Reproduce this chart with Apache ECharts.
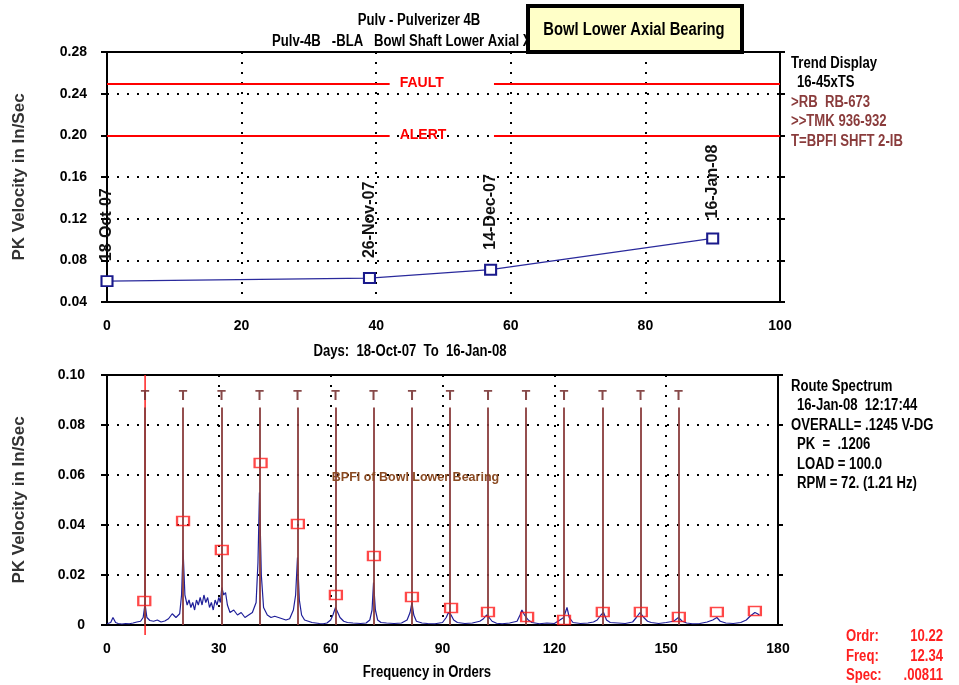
<!DOCTYPE html>
<html>
<head>
<meta charset="utf-8">
<title>Pulverizer 4B - Bowl Lower Axial Bearing</title>
<script src="https://cdn.jsdelivr.net/npm/echarts@6/dist/echarts.min.js"></script>
<style>
  html, body { margin: 0; padding: 0; background: #fff; }
  #chart { width: 959px; height: 685px; }
</style>
</head>
<body>
<div id="chart"></div>
<script>
// ---- Trend data (days since 18-Oct-07, PK velocity in/s) ----
const trendDays   = [0, 39, 57, 90];
const trendValues = [0.060, 0.063, 0.071, 0.101];
const trendDates  = ['18-Oct-07', '26-Nov-07', '14-Dec-07', '16-Jan-08'];
const faultLevel  = 0.25;
const alertLevel  = 0.20;

// ---- Route spectrum (orders, PK velocity in/s) ----
const specOrders = [
  0, 1, 1.6, 2.3, 3, 4, 5, 6, 7, 8, 9, 9.7, 10.2, 10.7, 11.5, 12.5, 13.5, 14.5, 15.5, 16.5,
  17.5, 18.5, 19.5, 20.0, 20.4, 20.9, 21.5, 22, 22.5, 23, 23.5, 24, 24.5, 25, 25.5, 26, 26.5, 27, 27.5, 28,
  28.5, 29, 29.5, 30, 30.4, 30.8, 31.3, 31.8, 32.3, 33, 34, 35, 36, 37, 38, 39, 40, 40.5, 40.9, 41.4,
  42, 43, 44, 45, 46, 47, 48, 49, 50, 50.6, 51.1, 51.6, 52.2, 53, 54, 55, 56, 57, 58, 59,
  60, 60.6, 61.3, 61.9, 62.5, 63.5, 64.5, 66, 68, 69.5, 70.5, 71.1, 71.5, 72, 72.6, 73.5, 75, 77, 79, 80.5,
  81.3, 81.8, 82.3, 83, 84.5, 86, 88, 90, 91, 91.6, 92.3, 93, 94, 96, 98, 100, 101, 101.8, 102.5, 103.3,
  104.5, 106, 108, 110, 110.8, 111.3, 112, 113, 114, 116, 118, 120, 121.5, 122.5, 123.4, 124, 125, 127, 129, 130.5,
  131.5, 132.5, 133.2, 134, 135, 137, 139, 141, 142, 143, 144, 145, 146, 148, 150, 152, 153.3, 154.3, 155.5, 157,
  159, 161, 162.5, 163.6, 164.5, 166, 168, 170, 171.5, 172.5, 173.8, 174.5, 175
];
const specValues = [
  0.0005, 0.001, 0.003, 0.001, 0.0006, 0.0004, 0.0006, 0.0005, 0.0008, 0.0012, 0.0015, 0.003, 0.0085, 0.003, 0.0018, 0.0015, 0.002, 0.0012, 0.0016, 0.0025,
  0.0045, 0.003, 0.0045, 0.012, 0.030, 0.012, 0.008, 0.010, 0.007, 0.009, 0.006, 0.010, 0.008, 0.011, 0.008, 0.012, 0.009, 0.011, 0.007, 0.009,
  0.006, 0.010, 0.008, 0.011, 0.009, 0.015, 0.012, 0.013, 0.008, 0.005, 0.006, 0.004, 0.005, 0.003, 0.004, 0.005, 0.009, 0.025, 0.053, 0.020,
  0.007, 0.004, 0.003, 0.0035, 0.003, 0.0025, 0.002, 0.0025, 0.006, 0.012, 0.027, 0.010, 0.004, 0.002, 0.0015, 0.001, 0.0008, 0.0006, 0.0005, 0.0008,
  0.002, 0.004, 0.007, 0.005, 0.003, 0.0015, 0.001, 0.0008, 0.0006, 0.0008, 0.002, 0.006, 0.017, 0.006, 0.002, 0.001, 0.0008, 0.0006, 0.0008, 0.002,
  0.005, 0.009, 0.004, 0.0015, 0.0008, 0.0006, 0.0005, 0.001, 0.003, 0.005, 0.004, 0.002, 0.001, 0.0006, 0.0008, 0.0015, 0.0025, 0.004, 0.003, 0.0015,
  0.0007, 0.0005, 0.0008, 0.0015, 0.004, 0.006, 0.004, 0.002, 0.001, 0.0005, 0.0008, 0.0006, 0.002, 0.003, 0.007, 0.003, 0.001, 0.0006, 0.0008, 0.0012,
  0.002, 0.004, 0.005, 0.002, 0.001, 0.0008, 0.0006, 0.0012, 0.003, 0.005, 0.003, 0.0015, 0.001, 0.0006, 0.001, 0.0015, 0.003, 0.0015, 0.0008, 0.0005,
  0.0006, 0.0012, 0.002, 0.003, 0.0015, 0.0008, 0.0006, 0.001, 0.002, 0.0035, 0.005, 0.0045, 0.004
];

// Peak markers (orders, amplitude)
const peakOrders = [10.0, 20.4, 30.8, 41.2, 51.2, 61.4, 71.6, 81.8, 92.3, 102.2, 112.7, 122.6, 133.0, 143.2, 153.4, 163.6, 173.8];
const peakValues = [0.0096, 0.0416, 0.030, 0.0648, 0.0404, 0.012, 0.0276, 0.0112, 0.0068, 0.0052, 0.0032, 0.002, 0.0052, 0.0052, 0.0032, 0.0052, 0.0056];

// BPFI harmonic cursor positions (orders)
const bpfiOrders = [10.2, 20.4, 30.7, 40.9, 51.1, 61.3, 71.5, 81.8, 92.0, 102.2, 112.4, 122.6, 132.9, 143.1, 153.3];
const bpfiTop = 0.087;
const cursorOrder = 10.22;

const FONT = "'Liberation Sans',Arial,sans-serif";
const BROWN = '#8a3c3c';

// Condensed text helper (horizontal squeeze around the anchor point)
function txt(text, x, y, opts) {
  opts = opts || {};
  return {
    type: 'text', x: x, y: y, z: opts.z || 10,
    scaleX: opts.sx || 0.82, scaleY: 1,
    style: {
      text: text,
      font: (opts.weight || 'bold') + ' ' + (opts.size || 16) + 'px ' + FONT,
      fill: opts.color || '#000',
      align: opts.align || 'left',
      verticalAlign: 'middle'
    }
  };
}

const dotted = { color: '#000', width: 2, type: [2, 8] };
const axisLabelStyle = { color: '#000', fontFamily: FONT, fontWeight: 'bold', fontSize: 14 };
const yNameStyle = { color: '#333', fontFamily: FONT, fontWeight: 'bold', fontSize: 17 };

const chart = echarts.init(document.getElementById('chart'), null, { renderer: 'canvas' });

const option = {
  animation: false,
  backgroundColor: '#fff',
  grid: [
    { left: 107, top: 52, width: 673, height: 250, show: true, borderColor: '#000', borderWidth: 2, backgroundColor: 'transparent' },
    { left: 107, top: 375, width: 671, height: 250, show: true, borderColor: '#000', borderWidth: 2, backgroundColor: 'transparent' }
  ],
  xAxis: [
    {
      gridIndex: 0, type: 'value', min: 0, max: 100, interval: 20,
      axisLine: { show: true, lineStyle: { color: '#000', width: 2 } },
      axisTick: { show: false },
      axisLabel: Object.assign({ margin: 17 }, axisLabelStyle),
      splitLine: { show: true, lineStyle: dotted }
    },
    {
      gridIndex: 1, type: 'value', min: 0, max: 180, interval: 30,
      axisLine: { show: true, lineStyle: { color: '#000', width: 2 } },
      axisTick: { show: false },
      axisLabel: Object.assign({ margin: 17 }, axisLabelStyle),
      splitLine: { show: true, lineStyle: dotted }
    }
  ],
  yAxis: [
    {
      gridIndex: 0, type: 'value', min: 0.04, max: 0.28, interval: 0.04,
      name: 'PK Velocity in In/Sec', nameLocation: 'middle', nameGap: 79,
      nameTextStyle: yNameStyle,
      axisLine: { show: true, lineStyle: { color: '#000', width: 2 } },
      axisTick: { show: true, length: 6, lineStyle: { color: '#000', width: 2 } },
      axisLabel: Object.assign({ margin: 20, formatter: v => v.toFixed(2) }, axisLabelStyle),
      splitLine: { show: true, lineStyle: dotted }
    },
    {
      gridIndex: 1, type: 'value', min: 0, max: 0.1, interval: 0.02,
      name: 'PK Velocity in In/Sec', nameLocation: 'middle', nameGap: 79,
      nameTextStyle: yNameStyle,
      axisLine: { show: true, lineStyle: { color: '#000', width: 2 } },
      axisTick: { show: true, length: 6, lineStyle: { color: '#000', width: 2 } },
      axisLabel: Object.assign({ margin: 22, formatter: v => (v === 0 ? '0' : v.toFixed(2)) }, axisLabelStyle),
      splitLine: { show: true, lineStyle: dotted }
    },
    {
      gridIndex: 0, type: 'value', min: 0.04, max: 0.28, interval: 0.04, position: 'right',
      axisLine: { show: true, lineStyle: { color: '#000', width: 2 } },
      axisTick: { show: true, length: 5, lineStyle: { color: '#000', width: 2 } },
      axisLabel: { show: false }, splitLine: { show: false }
    },
    {
      gridIndex: 1, type: 'value', min: 0, max: 0.1, interval: 0.02, position: 'right',
      axisLine: { show: true, lineStyle: { color: '#000', width: 2 } },
      axisTick: { show: true, length: 5, lineStyle: { color: '#000', width: 2 } },
      axisLabel: { show: false }, splitLine: { show: false }
    }
  ],
  series: [
    // Trend line with date tags
    {
      type: 'line', xAxisIndex: 0, yAxisIndex: 0, z: 5,
      data: trendDays.map((d, i) => [d, trendValues[i]]),
      symbol: 'rect', symbolSize: [11, 10], showAllSymbol: true,
      itemStyle: { color: '#fff', borderColor: '#1a1a8c', borderWidth: 2 },
      lineStyle: { color: '#2a2a9c', width: 1.2 },
      label: {
        show: true, position: 'top', distance: 14, rotate: 90,
        align: 'left', verticalAlign: 'middle',
        formatter: p => trendDates[p.dataIndex],
        color: '#111', fontFamily: FONT, fontWeight: 'bold', fontSize: 16
      },
      markLine: {
        silent: true, symbol: ['none', 'none'],
        lineStyle: { color: '#ff0000', width: 2, type: 'solid' },
        label: { show: false },
        data: [
          [{ coord: [0, faultLevel], label: { show: true, position: 'end', formatter: 'FAULT', distance: 10, color: '#ff0000', fontFamily: FONT, fontWeight: 'bold', fontSize: 14 } }, { coord: [42, faultLevel] }],
          [{ coord: [57.5, faultLevel] }, { coord: [100, faultLevel] }],
          [{ coord: [0, alertLevel], label: { show: true, position: 'end', formatter: 'ALERT', distance: 10, color: '#ff0000', fontFamily: FONT, fontWeight: 'bold', fontSize: 14 } }, { coord: [42, alertLevel] }],
          [{ coord: [57.5, alertLevel] }, { coord: [100, alertLevel] }]
        ]
      }
    },
    // Cursor at the fundamental BPFI order
    {
      type: 'line', xAxisIndex: 1, yAxisIndex: 1, clip: false, z: 2,
      data: [[cursorOrder, 0.1], [cursorOrder, -0.004]],
      symbol: 'none', lineStyle: { color: '#ff2020', width: 1.5 }
    },
    // Spectrum trace with BPFI harmonic markers
    {
      type: 'line', xAxisIndex: 1, yAxisIndex: 1, z: 4,
      data: specOrders.map((o, i) => [o, specValues[i]]),
      symbol: 'none', lineStyle: { color: '#1f1f99', width: 1.2 },
      markLine: {
        silent: true, symbol: ['none', 'none'],
        lineStyle: { color: BROWN, width: 2, type: 'solid', opacity: 0.9 },
        label: { show: true, position: 'end', formatter: 'T', distance: 4, color: '#7a3535', fontFamily: FONT, fontWeight: 'bold', fontSize: 14 },
        data: bpfiOrders.map(o => [{ coord: [o, 0] }, { coord: [o, bpfiTop] }])
      },
      markPoint: {
        silent: true, symbol: 'circle', symbolSize: 0,
        data: [{
          coord: [60.3, 0.0588],
          label: { show: true, position: 'right', distance: 0, formatter: 'BPFI of Bowl Lower Bearing', color: '#8a4a22', fontFamily: FONT, fontWeight: 'bold', fontSize: 12.5 }
        }]
      }
    },
    // Peak markers
    {
      type: 'scatter', xAxisIndex: 1, yAxisIndex: 1, z: 6,
      data: peakOrders.map((o, i) => [o, peakValues[i]]),
      symbol: 'rect', symbolSize: [12, 9],
      itemStyle: { color: 'rgba(255,255,255,0)', borderColor: '#ff1a1a', borderWidth: 2 }
    }
  ],
  graphic: [
    txt('Pulv - Pulverizer 4B', 419, 21, { size: 16, align: 'center' }),
    txt('Pulv-4B   -BLA   Bowl Shaft Lower Axial X', 272, 42, { size: 16 }),
    { type: 'rect', z: 20, shape: { x: 528, y: 6, width: 214, height: 46 }, style: { fill: '#ffffc8', stroke: '#000', lineWidth: 4 } },
    txt('Bowl Lower Axial Bearing', 634, 30, { size: 18, align: 'center', z: 21 }),

    txt('Trend Display', 791, 64),
    txt('16-45xTS', 797, 83),
    txt('>RB  RB-673', 791, 103, { color: BROWN }),
    txt('>>TMK 936-932', 791, 122, { color: BROWN }),
    txt('T=BPFI SHFT 2-IB', 791, 142, { color: BROWN }),

    txt('Days:  18-Oct-07  To  16-Jan-08', 410, 352, { align: 'center' }),
    txt('Frequency in Orders', 427, 673, { align: 'center' }),

    txt('Route Spectrum', 791, 387),
    txt('16-Jan-08  12:17:44', 797, 406),
    txt('OVERALL= .1245 V-DG', 791, 426),
    txt('PK  =  .1206', 797, 445),
    txt('LOAD = 100.0', 797, 465),
    txt('RPM = 72. (1.21 Hz)', 797, 484),

    txt('Ordr:', 846, 637, { color: '#ff2020' }),
    txt('10.22', 943, 637, { color: '#ff2020', align: 'right' }),
    txt('Freq:', 846, 657, { color: '#ff2020' }),
    txt('12.34', 943, 657, { color: '#ff2020', align: 'right' }),
    txt('Spec:', 846, 676, { color: '#ff2020' }),
    txt('.00811', 943, 676, { color: '#ff2020', align: 'right' })
  ]
};

chart.setOption(option);
</script>
</body>
</html>
